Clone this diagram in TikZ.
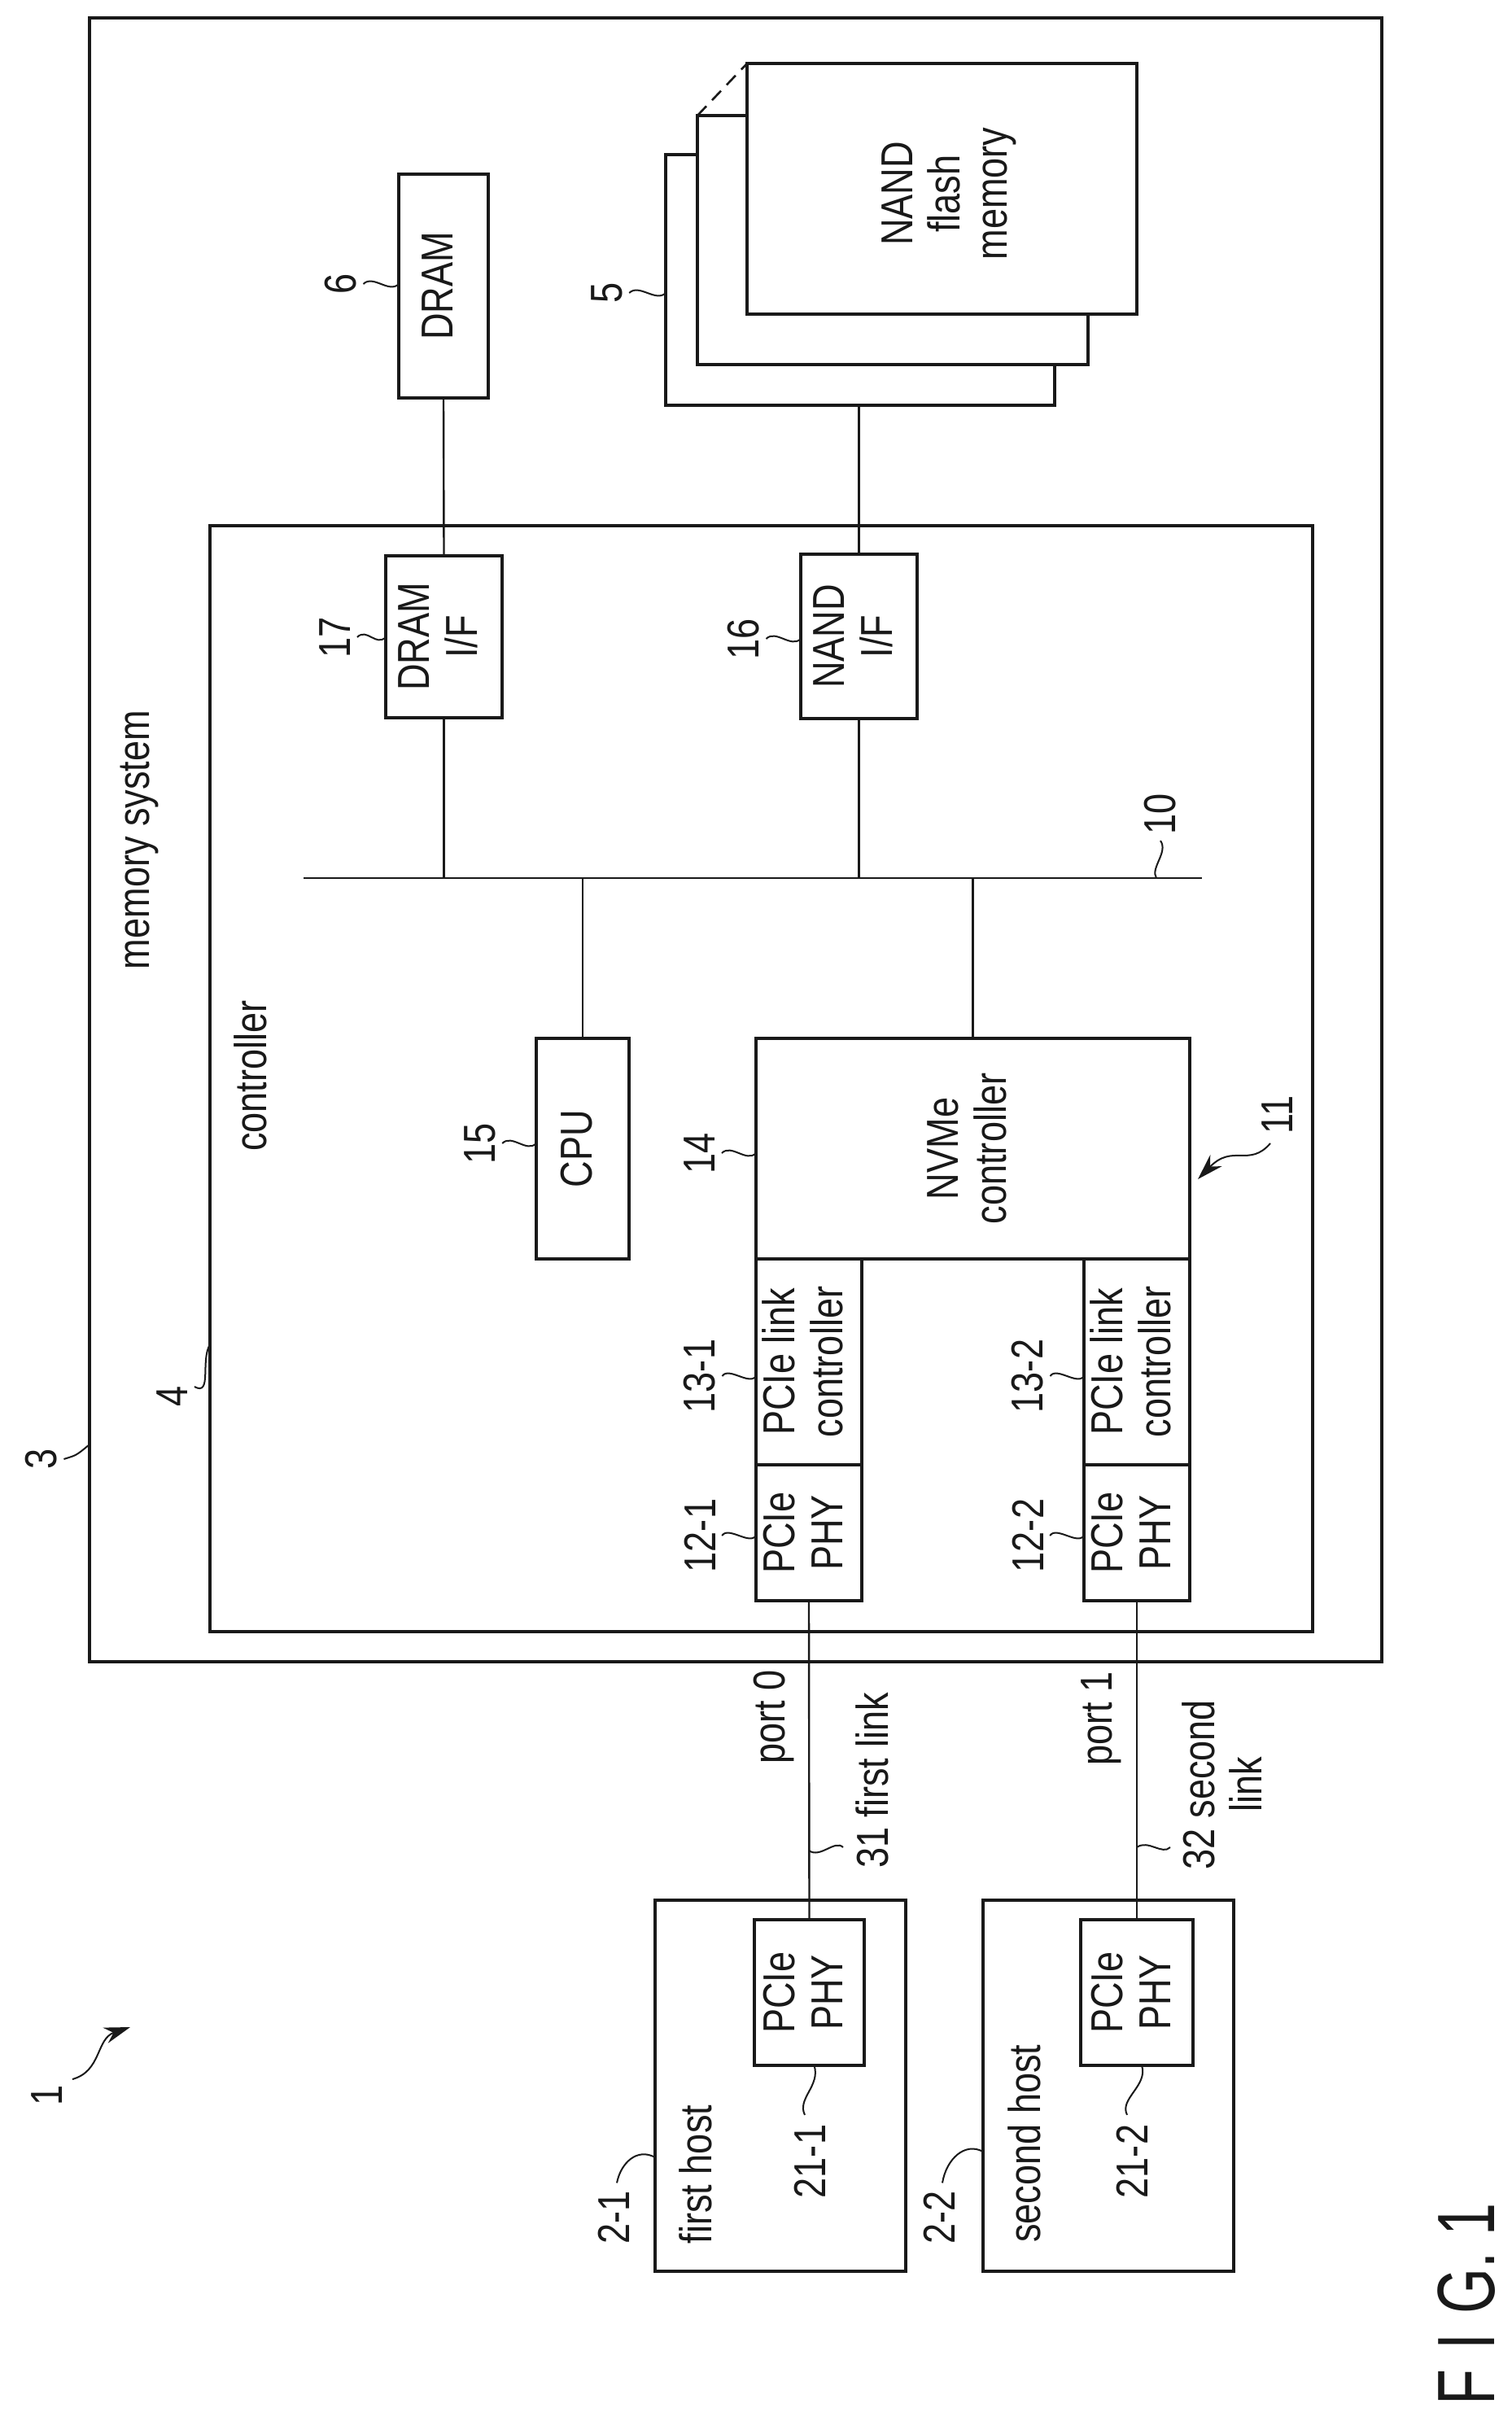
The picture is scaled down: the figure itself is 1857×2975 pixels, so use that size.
\documentclass[tikz,border=0pt]{standalone}
\usepackage{fontspec}
\usepackage{graphicx}
\setmainfont[FakeStretch=0.82]{Liberation Sans}
\newfontfamily\figfont[FakeStretch=0.72]{Liberation Sans}
\usetikzlibrary{arrows.meta}
\newcommand{\rt}[1]{\rotatebox{90}{\begin{tabular}{@{}c@{}}#1\end{tabular}}}
\newcommand{\mybox}[6]{%
  \pgfmathsetmacro\myw{(#4-#2)*0.5}%
  \pgfmathsetmacro\myh{(#5-#3)*0.5}%
  \node[boxn,minimum width=\myw pt,minimum height=\myh pt] (#1) at ({(#2+#4)/2},{(#3+#5)/2}) {#6};}
\definecolor{ink}{gray}{0.1}
\tikzset{
  boxn/.style={draw=ink,fill=white,line width=1.9pt,inner sep=0pt,outer sep=0pt,text=ink,font=\fontsize{27.5}{29.5}\selectfont},
  lbl/.style={rotate=90,inner sep=0pt,outer sep=0pt,align=center,text=ink,font=\fontsize{27.5}{29}\selectfont},
  wire/.style={draw=ink,line width=1.2pt},
  lead/.style={draw=ink,line width=1pt},
  leadarrow/.style={draw=ink,line width=1pt,-{Stealth[length=16pt,width=10pt]}},
}
\begin{document}
\begin{tikzpicture}[x=0.5pt,y=-0.5pt]
\useasboundingbox (0,0) rectangle (1857,2975);
\fill[white] (0,0) rectangle (1857,2975);
% outer boxes
\mybox{mem}{110}{22}{1698}{2042}{}
\mybox{ctrl}{258}{646}{1613}{2005}{}
% NAND stack
\mybox{nandc}{818}{190}{1296}{498}{}
\mybox{nandb}{857}{142}{1337}{448}{}
\mybox{nanda}{918}{78}{1397}{386}{}
\draw[draw=ink,line width=1.3pt,dash pattern=on 8pt off 5pt] (nandb.north west) -- (nanda.north west);
\node[lbl] (nandt) at (1166,238) {NAND\\flash\\memory};
% DRAM and interfaces
\mybox{dram}{490}{214}{600}{489}{\rt{DRAM}}
\mybox{dramif}{474}{683}{617}{882}{\rt{DRAM\\I/F}}
\mybox{nandif}{984}{681}{1127}{883}{\rt{NAND\\I/F}}
% bus
\coordinate (busL) at (373,1079);
\coordinate (busR) at (1477,1079);
\draw[wire,line width=1.4pt] (busL) -- (busR);
% CPU and NVMe
\mybox{cpu}{659}{1276}{773}{1547}{\rt{CPU}}
\mybox{nvme}{929}{1276}{1462}{1547}{\rt{NVMe\\controller}}
\mybox{lcA}{929}{1547}{1059}{1800}{\rt{PCIe link\\controller}}
\mybox{lcB}{1332}{1547}{1462}{1800}{\rt{PCIe link\\controller}}
\mybox{phyA}{929}{1800}{1059}{1967}{\rt{PCIe\\PHY}}
\mybox{phyB}{1332}{1800}{1462}{1967}{\rt{PCIe\\PHY}}
% hosts
\mybox{hostA}{805}{2335}{1113}{2791}{}
\mybox{hostB}{1208}{2335}{1516}{2791}{}
\mybox{hphyA}{927}{2359}{1062}{2538}{\rt{PCIe\\PHY}}
\mybox{hphyB}{1328}{2359}{1466}{2538}{\rt{PCIe\\PHY}}
% connectors
\draw[wire] (dram.south) -- (dramif.north);
\draw[wire] (nandif.north) -- (nandif.north |- nandc.south);
\draw[wire] (dramif.south) -- (dramif.south |- busL);
\draw[wire] (nandif.south) -- (nandif.south |- busL);
\draw[wire] (cpu.north) -- (cpu.north |- busL);
\draw[wire] (nvme.north) -- (nvme.north |- busL);
\draw[wire] (phyA.south) -- (hphyA.north);
\draw[wire] (phyB.south) -- (hphyB.north);
% text labels
\node[lbl] (tmem) at (171,1032) {memory system};
\node[lbl] (tctrl) at (308,1322) {controller};
\node[lbl] (tport0) at (951,2110) {port 0};
\node[lbl] (tport1) at (1353,2112) {port 1};
\node[lbl] (tl1) at (1072,2188) {31 first link};
\node[lbl] (tl2) at (1502,2193) {32 second\\link};
\node[lbl] (th1) at (855,2672) {first host};
\node[lbl] (th2) at (1259,2634) {second host};
% reference numerals
\node[lbl] (n1) at (58,2575) {1};
\node[lbl] (n3) at (51,1793) {3};
\node[lbl] (n4) at (212,1716) {4};
\node[lbl] (n5) at (746,360) {5};
\node[lbl] (n6) at (419,349) {6};
\node[lbl] (n10) at (1426,1000) {10};
\node[lbl] (n11) at (1570,1370) {11};
\node[lbl] (n14) at (860,1417) {14};
\node[lbl] (n15) at (590,1405) {15};
\node[lbl] (n16) at (914,785) {16};
\node[lbl] (n17) at (412,783) {17};
\node[lbl] (n121) at (860,1887) {12-1};
\node[lbl] (n122) at (1263,1887) {12-2};
\node[lbl] (n131) at (860,1691) {13-1};
\node[lbl] (n132) at (1263,1691) {13-2};
\node[lbl] (n211) at (995,2656) {21-1};
\node[lbl] (n212) at (1391,2656) {21-2};
\node[lbl] (n21) at (754,2725) {2-1};
\node[lbl] (n22) at (1154,2725) {2-2};
% lead lines (short tildes from numeral to part)
\draw[lead] ([xshift=4pt]n5.south) .. controls +(12,-12) and +(-12,12) .. (nandc.west |- n5);
\draw[lead] ([xshift=4pt]n6.south) .. controls +(12,-12) and +(-12,12) .. (dram.west |- n6);
\draw[lead] ([xshift=4pt]n17.south) .. controls +(12,-12) and +(-12,12) .. (dramif.west |- n17);
\draw[lead] ([xshift=4pt]n16.south) .. controls +(12,-12) and +(-12,12) .. (nandif.west |- n16);
\draw[lead] ([xshift=4pt]n15.south) .. controls +(12,-12) and +(-12,12) .. (cpu.west |- n15);
\draw[lead] ([xshift=4pt]n14.south) .. controls +(12,-12) and +(-12,12) .. (nvme.west |- n14);
\draw[lead] ([xshift=4pt]n131.south) .. controls +(8,-12) and +(-8,12) .. (lcA.west |- n131);
\draw[lead] ([xshift=4pt]n132.south) .. controls +(8,-12) and +(-8,12) .. (lcB.west |- n132);
\draw[lead] ([xshift=4pt]n121.south) .. controls +(8,-12) and +(-8,12) .. (phyA.west |- n121);
\draw[lead] ([xshift=4pt]n122.south) .. controls +(8,-12) and +(-8,12) .. (phyB.west |- n122);
\coordinate (e3) at (110,1775);
\draw[lead] ([xshift=4pt]n3.south) .. controls +(15,-5) and +(-18,15) .. (e3);
\coordinate (e4) at (258,1652);
\draw[lead] ([xshift=4pt,yshift=6pt]n4.south) .. controls +(22,12) and +(-12,20) .. (e4);
\coordinate (e10) at (1421,1079);
\draw[lead] ([yshift=-4pt]n10.west) .. controls +(10,14) and +(-8,-12) .. (e10);
\coordinate (e31) at (1036,2270);
\draw[lead] (phyA.south |- e31) ++(0,4) .. controls +(14,10) and +(-10,-10) .. (e31);
\coordinate (e32) at (1438,2270);
\draw[lead] (phyB.south |- e32) ++(0,0) .. controls +(14,-10) and +(-10,10) .. (e32);
\draw[lead] (hphyA.south) ++(6,0) .. controls +(8,25) and +(-10,-20) .. ([yshift=6pt,xshift=-3pt]n211.east);
\draw[lead] (hphyB.south) ++(6,0) .. controls +(8,25) and +(-10,-20) .. ([yshift=6pt,xshift=-3pt]n212.east);
\coordinate (e21) at (805,2651);
\draw[lead] ([yshift=5pt,xshift=2pt]n21.east) .. controls +(5,-25) and +(-22,-12) .. (e21);
\coordinate (e22) at (1208,2644);
\draw[lead] ([yshift=5pt,xshift=2pt]n22.east) .. controls +(5,-30) and +(-22,-12) .. (e22);
\coordinate (s1) at (89,2555);
\coordinate (a1) at (160,2491);
\draw[leadarrow] (s1) .. controls (125,2545) and (118,2505) .. (a1);
\coordinate (s11) at (1561,1405);
\coordinate (a11) at (1472,1449);
\draw[leadarrow] (s11) .. controls (1535,1435) and (1515,1405) .. (a11);
% figure caption
\node[rotate=90,anchor=base,inner sep=0pt,text=ink,font=\figfont\fontsize{50}{60}\selectfont] (fig) at (1836,2831) {F\hspace{12pt}I\hspace{12pt}G.\hspace{10pt}1};
\end{tikzpicture}
\end{document}
